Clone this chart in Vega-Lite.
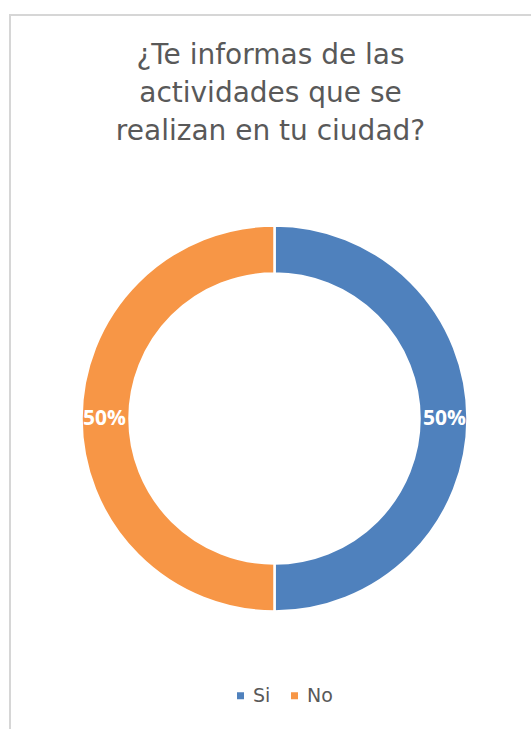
{
  "$schema": "https://vega.github.io/schema/vega-lite/v6.json",
  "autosize": "none",
  "width": 529,
  "height": 807,
  "padding": {"left": 10, "top": 15, "right": 0, "bottom": 0},
  "background": "white",
  "view": {"stroke": "#d6d6d6", "strokeWidth": 2},
  "config": {
    "font": "DejaVu Sans"
  },
  "title": {
    "text": ["¿Te informas de las", "actividades que se", "realizan en tu ciudad?"],
    "orient": "top",
    "anchor": "middle",
    "frame": "group",
    "offset": -131,
    "dx": -4,
    "font": "DejaVu Sans",
    "fontSize": 28,
    "fontWeight": "normal",
    "lineHeight": 38,
    "color": "#595959"
  },
  "data": {
    "values": [
      {"respuesta": "Si", "valor": 50},
      {"respuesta": "No", "valor": 50}
    ]
  },
  "encoding": {
    "theta": {"field": "valor", "type": "quantitative", "stack": true},
    "order": {"field": "respuesta", "sort": "descending"},
    "color": {
      "field": "respuesta",
      "type": "nominal",
      "scale": {"domain": ["Si", "No"], "range": ["#4f81bd", "#f79646"]},
      "legend": {
        "title": null,
        "orient": "none",
        "direction": "horizontal",
        "legendX": 221,
        "legendY": 671,
        "symbolType": "square",
        "symbolSize": 49,
        "symbolStrokeWidth": 0,
        "labelFontSize": 19,
        "labelColor": "#595959",
        "labelFont": "DejaVu Sans",
        "labelOffset": 3,
        "columnPadding": 14,
        "padding": 0
      }
    }
  },
  "layer": [
    {
      "mark": {"type": "arc", "outerRadius": 193, "innerRadius": 145, "stroke": "white", "strokeWidth": 2.5}
    },
    {
      "mark": {"type": "text", "radius": 170, "fontSize": 21, "fontWeight": "bold", "color": "white", "font": "Open Sans"},
      "encoding": {
        "text": {"value": "50%"},
        "color": {"value": "white"}
      }
    }
  ]
}
